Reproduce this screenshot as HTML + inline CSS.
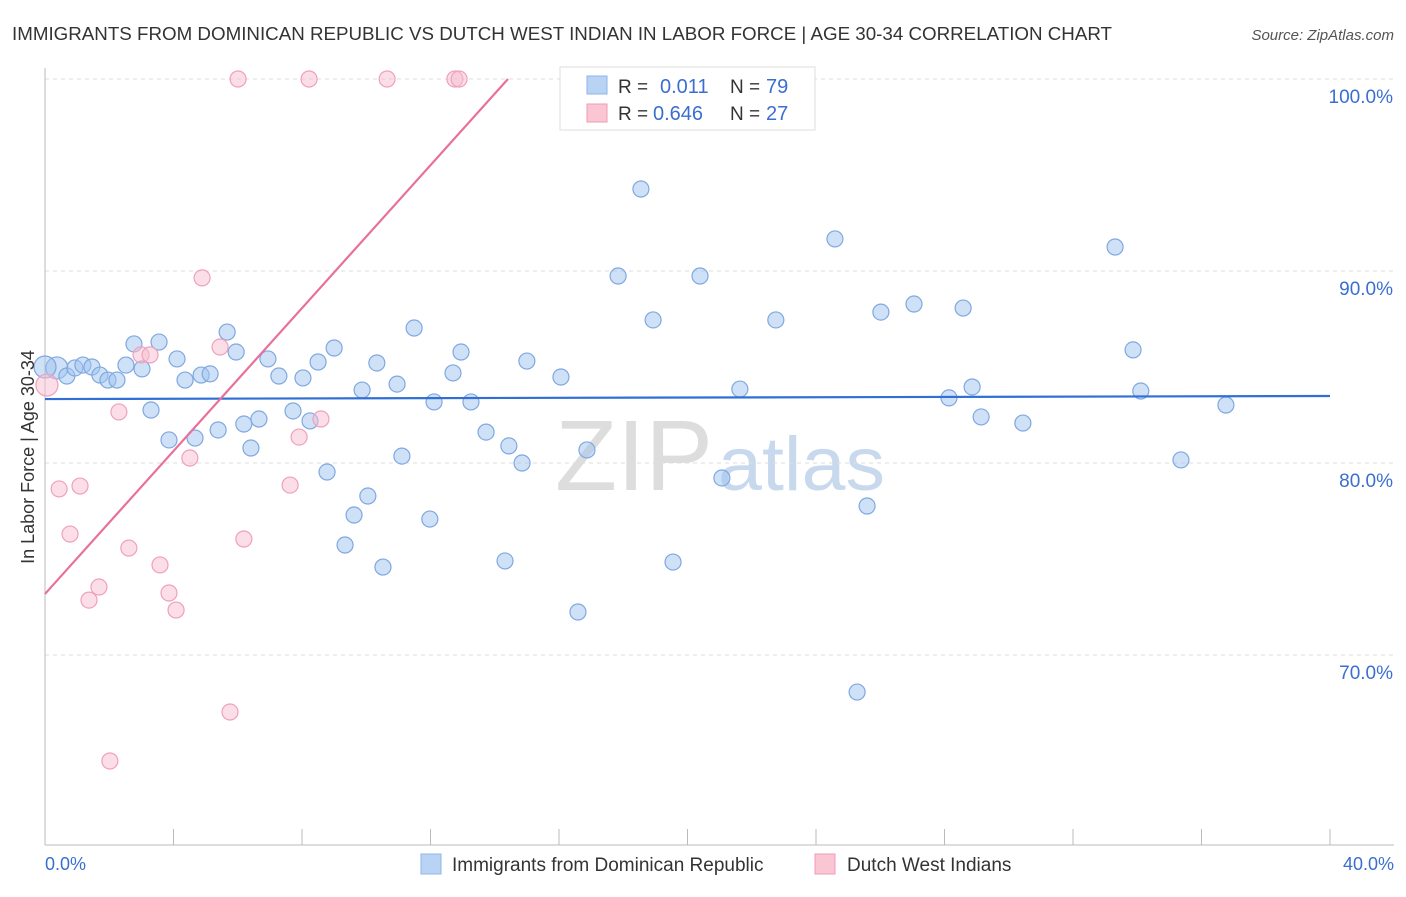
<!DOCTYPE html>
<html><head><meta charset="utf-8"><style>
body{margin:0;background:#fff;font-family:"Liberation Sans",sans-serif;}
svg text{font-family:"Liberation Sans",sans-serif;}
</style></head><body>
<svg id="chart" width="1406" height="892">
<text x="12" y="40" font-size="18.5" fill="#333" textLength="1100" lengthAdjust="spacingAndGlyphs">IMMIGRANTS FROM DOMINICAN REPUBLIC VS DUTCH WEST INDIAN IN LABOR FORCE | AGE 30-34 CORRELATION CHART</text>
<text x="1394" y="40" font-size="15" fill="#555" font-style="italic" text-anchor="end">Source: ZipAtlas.com</text>
<text x="555" y="490" font-size="100" fill="#ddd" textLength="158" lengthAdjust="spacingAndGlyphs" font-family="Liberation Serif">ZIP</text>
<text x="718" y="490" font-size="76" fill="#c8d9ee" textLength="167" lengthAdjust="spacingAndGlyphs">atlas</text>
<g id="grid"></g><g id="axes"></g><g id="pts"></g><g id="trends"></g>
<text transform="translate(34,457) rotate(-90)" font-size="18" fill="#333" text-anchor="middle">In Labor Force | Age 30-34</text>
<text x="45" y="870" font-size="18" fill="#3a6fd0">0.0%</text>
<text x="1394" y="870" font-size="18" fill="#3a6fd0" text-anchor="end">40.0%</text>
<g>
<rect x="560" y="67" width="255" height="63" fill="#fff" stroke="#ddd"/>
<rect x="587" y="76" width="20" height="18" fill="#b9d3f5" stroke="#8fb3e8"/>
<rect x="587" y="104" width="20" height="18" fill="#fac6d4" stroke="#f29ab5"/>
<text x="618" y="93" font-size="19" fill="#333">R =</text><text x="660" y="93" font-size="20" fill="#3a6fd0">0.011</text>
<text x="730" y="93" font-size="19" fill="#333">N =</text><text x="766" y="93" font-size="20" fill="#3a6fd0">79</text>
<text x="618" y="120" font-size="19" fill="#333">R =</text><text x="653" y="120" font-size="20" fill="#3a6fd0">0.646</text>
<text x="730" y="120" font-size="19" fill="#333">N =</text><text x="766" y="120" font-size="20" fill="#3a6fd0">27</text>
</g>
<g>
<rect x="421" y="854" width="20" height="20" fill="#b9d3f5" stroke="#8fb3e8"/>
<text x="452" y="871" font-size="19" fill="#333">Immigrants from Dominican Republic</text>
<rect x="815" y="854" width="20" height="20" fill="#fac6d4" stroke="#f29ab5"/>
<text x="847" y="871" font-size="19" fill="#333">Dutch West Indians</text>
</g>
</svg>
<script>
const yTicks=[70,80,90,100];
const xTickCount=10;
const blueX=[0.37,0.68,0.93,1.18,1.46,1.71,1.96,2.24,2.52,2.77,3.02,3.30,3.55,3.86,4.11,4.36,4.67,4.86,5.14,5.39,5.67,5.95,6.19,6.41,6.66,6.94,7.28,7.72,8.03,8.25,8.50,8.78,9.00,9.34,9.62,9.87,10.05,10.33,10.52,10.96,11.11,11.49,11.98,12.11,12.70,12.95,13.26,13.73,14.32,14.44,14.85,15.00,16.06,16.59,16.87,17.84,18.55,18.93,19.55,20.39,21.07,21.63,22.75,24.59,25.28,25.59,26.02,27.05,28.14,28.58,28.86,29.14,30.44,33.31,33.87,34.11,35.36,36.76,0.0];
const blueY=[84.95,84.53,84.95,85.10,85.0,84.58,84.32,84.32,85.10,86.20,84.90,82.76,86.30,81.20,85.42,84.32,81.30,84.58,84.64,81.72,86.82,85.78,82.03,80.78,82.29,85.42,84.53,82.71,84.43,82.19,85.26,79.53,85.99,75.73,77.29,83.80,78.28,85.21,74.58,84.11,80.36,87.03,77.08,83.18,84.69,85.78,83.18,81.61,74.90,80.89,80.0,85.31,84.48,72.24,80.68,89.74,94.27,87.45,74.84,89.74,79.22,83.85,87.45,91.67,68.07,77.76,87.86,88.28,83.39,88.07,83.96,82.40,82.08,91.25,85.89,83.75,80.16,83.02,85.0];
const pinkX=[0.06,0.44,0.78,1.09,1.37,1.68,2.02,2.30,2.61,2.99,3.27,3.58,3.86,4.08,4.51,4.89,5.45,5.76,6.01,6.19,7.63,7.91,8.22,8.59,10.65,12.76,12.89];
const pinkY=[84.06,78.65,76.30,78.80,72.86,73.54,64.48,82.66,75.57,85.63,85.63,74.69,73.23,72.34,80.26,89.64,86.04,67.03,100,76.04,78.85,81.35,100,82.29,100,100,100];
const blueTrend=[83.33,83.49];
const pinkTrend=[73.18,1.861];
const NS="http://www.w3.org/2000/svg";
const X=v=>45+v/40*1285, Y=v=>79+(100-v)*19.2;
function mk(t,a,p){const e=document.createElementNS(NS,t);for(const k in a)e.setAttribute(k,a[k]);document.getElementById(p).appendChild(e);return e;}
yTicks.forEach(t=>{
 const l=mk('line',{x1:45,x2:1394,y1:Y(t),y2:Y(t),stroke:'#ddd','stroke-dasharray':'4,4'},'grid');
 
 
 const tx=mk('text',{x:1393,y:Y(t)+24,'font-size':19,fill:'#3a6fd0','text-anchor':'end'},'grid');
 tx.textContent=t.toFixed(1)+'%';
 
 
});
const ax=mk('line',{x1:45,x2:1394,y1:845,y2:845,stroke:'#bbb'},'axes');


const ay=mk('line',{x1:45,x2:45,y1:68,y2:845,stroke:'#bbb'},'axes');


for(let i=0;i<=xTickCount;i++){
 const tk=mk('line',{x1:X(i*4),x2:X(i*4),y1:829,y2:845,stroke:'#bbb'},'axes');
 
 
}
blueX.forEach((v,i)=>{
 const c=mk('circle',{cx:X(v),cy:Y(blueY[i]),r:(i==0||i==78)?11:8,fill:'rgba(160,195,240,0.5)',stroke:'#7fa8e0','stroke-width':1.2},'pts');
 
 
});
pinkX.forEach((v,i)=>{
 const c=mk('circle',{cx:X(v),cy:Y(pinkY[i]),r:(i==0)?11:8,fill:'rgba(248,190,208,0.5)',stroke:'#f0a0bb','stroke-width':1.2},'pts');
 
 
});
const bt=mk('line',{x1:X(0),y1:Y(blueTrend[0]),x2:X(40),y2:Y(blueTrend[1]),stroke:'#2f6fd6','stroke-width':2.2},'trends');


const xe=(100-pinkTrend[0])/pinkTrend[1];
const pt=mk('line',{x1:X(0),y1:Y(pinkTrend[0]),x2:X(xe),y2:Y(100),stroke:'#e8709a','stroke-width':2.2},'trends');


</script>
</body></html>
